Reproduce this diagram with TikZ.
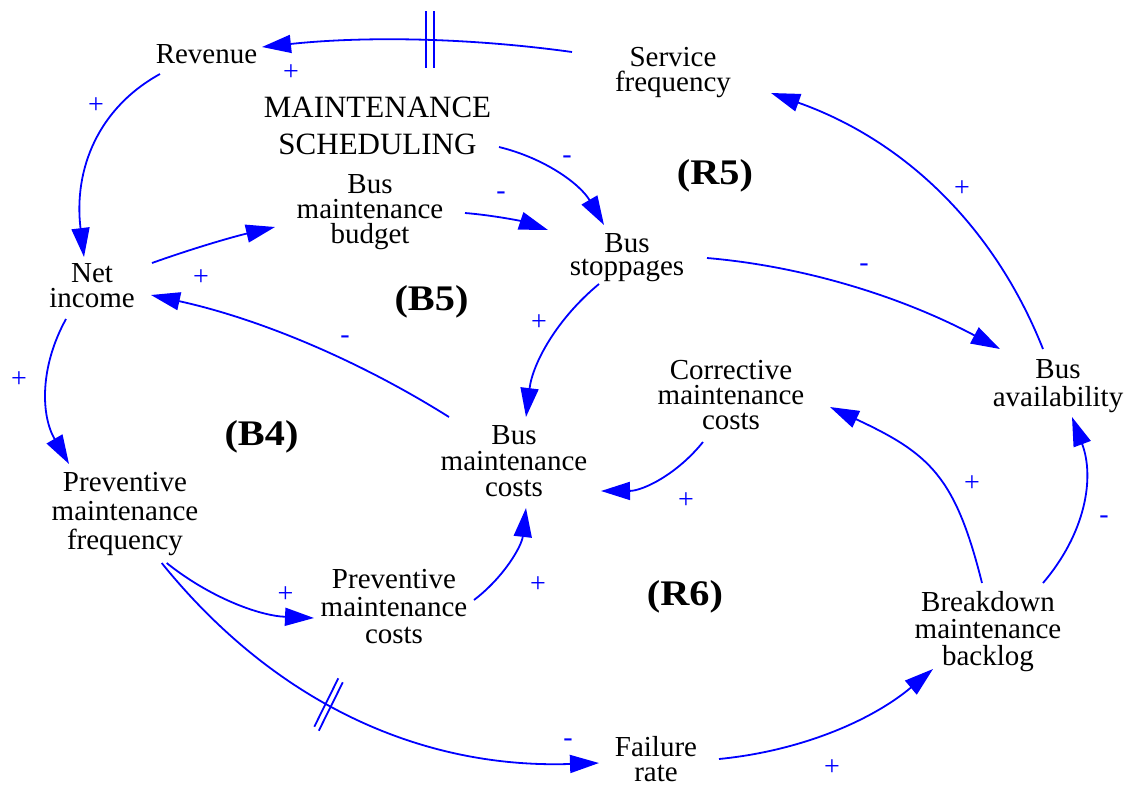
\documentclass[tikz,border=0pt]{standalone}
\usepackage{fontspec}
\setmainfont{Liberation Serif}
\newfontfamily\loopfont{Liberation Serif}[FakeStretch=1.12]
\usetikzlibrary{arrows.meta,calc}

\tikzset{
  varnode/.style={align=center,inner sep=0pt,font=\fontsize{29}{#1}\selectfont},
  varnode/.default=25.5,
  looplabel/.style={inner sep=0pt,font=\loopfont\bfseries\fontsize{36}{40}\selectfont},
  causal/.style={draw=blue,line width=1.8pt,-{Triangle[length=29pt,width=18pt]}},
  polarity/.style={inner sep=0pt,text=blue,font=\fontsize{28}{30}\selectfont},
  delaymark/.style={draw=blue,line width=1.8pt}
}

\begin{document}
\begin{tikzpicture}[x=1pt,y=-1pt]
\useasboundingbox (0,0) rectangle (1125,785);

% variables
\node[varnode] (rev) at (206.5,54) {Revenue};
\node[varnode=25] (sf) at (673,72.5) {Service\\frequency};
\node[varnode=37,font=\fontsize{31}{37}\selectfont] (ms) at (377.5,125.5) {MAINTENANCE\\SCHEDULING};
\node[varnode=25] (bmb) at (370,212) {Bus\\maintenance\\budget};
\node[varnode=23] (bs) at (627,258) {Bus\\stoppages};
\node[varnode=25] (ni) at (92,285.5) {Net\\income};
\node[varnode=26] (bmc) at (514,461) {Bus\\maintenance\\costs};
\node[varnode=29] (pmf) at (125,514) {Preventive\\maintenance\\frequency};
\node[varnode=27.5] (pmc) at (394,607) {Preventive\\maintenance\\costs};
\node[varnode=25] (cmc) at (731,395) {Corrective\\maintenance\\costs};
\node[varnode=28] (ba) at (1058,386) {Bus\\availability};
\node[varnode=27] (bml) at (988,632) {Breakdown\\maintenance\\backlog};
\node[varnode=25] (fr) at (656,759) {Failure\\rate};

% loop identifiers
\node[looplabel] (lB5) at (431.5,302) {(B5)};
\node[looplabel] (lR5) at (715,176) {(R5)};
\node[looplabel] (lB4) at (261.5,436.5) {(B4)};
\node[looplabel] (lR6) at (685,597) {(R6)};

% causal links
\draw[causal] ($(sf)+(-101,-20.5)$) .. controls (468.7,37.7) and (365.3,36) .. ($(rev)+(55.5,-7)$);
\draw[causal] ($(rev)+(-46.5,20)$) .. controls (98.7,107.7) and (73.3,168.7) .. ($(ni)+(-8,-28.5)$);
\draw[causal] ($(ni)+(60,-22.5)$) .. controls (191,249) and (232,237) .. ($(bmb)+(-95,15)$);
\draw[causal] ($(bmb)+(95,1)$) .. controls (493.3,215.3) and (521,221) .. ($(bs)+(-79,-28)$);
\draw[causal] ($(ms)+(121.5,21.5)$) .. controls (545.3,158.3) and (580.3,184.3) .. ($(bs)+(-23,-33)$);
\draw[causal] ($(bs)+(80,0)$) .. controls (804,266.3) and (901.7,296.7) .. ($(ba)+(-58,-37)$);
\draw[causal] ($(ba)+(-15,-37)$) .. controls (993.7,225) and (903,139.7) .. ($(sf)+(98,20.5)$);
\draw[causal] ($(bs)+(-28,26)$) .. controls (557,318.7) and (532.7,363) .. ($(bmc)+(12,-44)$);
\draw[causal] ($(bmc)+(-65,-44)$) .. controls (356.7,359) and (257.4,318.3) .. ($(ni)+(59,9.5)$);
\draw[causal] ($(ni)+(-26,33.5)$) .. controls (39.7,366.7) and (40.7,415) .. ($(pmf)+(-56,-50)$);
\draw[causal] ($(pmf)+(41.7,49)$) .. controls (209.6,597.3) and (258.7,615.7) .. ($(pmc)+(-80,11)$);
\draw[causal] ($(pmc)+(80,-7)$) .. controls (504.4,576.7) and (521.7,546) .. ($(bmc)+(12,47)$);
\draw[causal] ($(pmf)+(36.7,49)$) .. controls (274.3,702.3) and (420.1,769) .. ($(fr)+(-57,4)$);
\draw[causal] ($(fr)+(63,0)$) .. controls (799.7,751.1) and (871,721.1) .. ($(bml)+(-55,37)$);
\draw[causal] ($(bml)+(-6,-49)$) .. controls (955.3,476.3) and (929.7,453.6) .. ($(cmc)+(99,12)$);
\draw[causal] ($(bml)+(55,-49)$) .. controls (1085.3,533.4) and (1095,478.1) .. ($(ba)+(14,31)$);
\draw[causal] ($(cmc)+(-28,47)$) .. controls (676.8,474.5) and (642.8,490.9) .. ($(bmc)+(87,30)$);

% delay marks
\draw[delaymark] (426,11) -- (426,68) (434,11) -- (434,68);
\draw[delaymark] (314.3,726.7) -- (338.3,678.3) (318.8,730.7) -- (342.8,682.3);

% link polarities
\node[polarity] (p1) at (291,72.5) {+};
\node[polarity] (p2) at (96,106) {+};
\node[polarity] (p3) at (201,278) {+};
\node[polarity] (p4) at (501,196) {-};
\node[polarity] (p5) at (567,160) {-};
\node[polarity] (p6) at (864,268) {-};
\node[polarity] (p7) at (962,189) {+};
\node[polarity] (p8) at (539,323) {+};
\node[polarity] (p9) at (345,340) {-};
\node[polarity] (p10) at (19,380) {+};
\node[polarity] (p11) at (285.4,595) {+};
\node[polarity] (p12) at (538,585) {+};
\node[polarity] (p13) at (568,743) {-};
\node[polarity] (p14) at (832,768) {+};
\node[polarity] (p15) at (972,484) {+};
\node[polarity] (p16) at (1104,520) {-};
\node[polarity] (p17) at (686,501) {+};
\end{tikzpicture}
\end{document}
